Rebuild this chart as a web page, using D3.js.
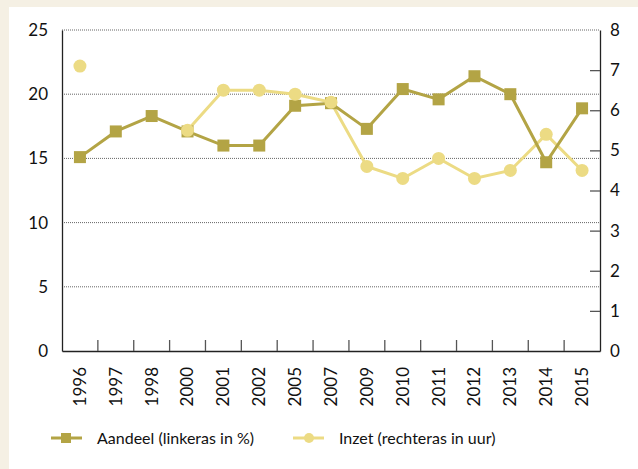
<!DOCTYPE html>
<html>
<head>
<meta charset="utf-8">
<script src="https://cdnjs.cloudflare.com/ajax/libs/d3/7.8.5/d3.min.js"></script>
<style>
  body { margin: 0; background: #f5f0e4; }
  svg { display: block; }
  text { font-family: Lato, "Open Sans", sans-serif; fill: #111; }
</style>
</head>
<body>
<div class="chart"></div>
<script>
// data
var years = ["1996", "1997", "1998", "2000", "2001", "2002", "2005", "2007",
             "2009", "2010", "2011", "2012", "2013", "2014", "2015"];
var aandeel = [15.1, 17.1, 18.3, 17.1, 16.0, 16.0, 19.1, 19.3, 17.3, 20.4, 19.6, 21.4, 20.0, 14.7, 18.9];
var inzet = [7.1, null, null, 5.5, 6.5, 6.5, 6.4, 6.2, 4.6, 4.3, 4.8, 4.3, 4.5, 5.4, 4.5];
var leftTicks = [0, 5, 10, 15, 20, 25];
var rightTicks = [0, 1, 2, 3, 4, 5, 6, 7, 8];
var seriesNames = ["Aandeel (linkeras in %)", "Inzet (rechteras in uur)"];

var svgWidth = 638;
var svgHeight = 469;
var margin = { top: 30, right: 38, bottom: 118, left: 62 };
var width = svgWidth - margin.left - margin.right;
var height = svgHeight - margin.top - margin.bottom;

var darkColor = "#b3a445";
var lightColor = "#ecdb84";

var svg = d3.select(".chart")
  .append("svg")
  .attr("width", svgWidth)
  .attr("height", svgHeight);

// white panel on beige frame
svg.append("rect")
  .attr("x", 9).attr("y", 7)
  .attr("width", svgWidth - 9).attr("height", svgHeight - 7)
  .attr("fill", "#fff");

var chartGroup = svg.append("g")
  .attr("transform", `translate(${margin.left}, ${margin.top})`);

var xScale = d3.scaleBand().domain(years).range([0, width]);
var yLeft = d3.scaleLinear().domain([0, 25]).range([height, 0]);
var yRight = d3.scaleLinear().domain([0, 8]).range([height, 0]);

// gridlines
chartGroup.append("g")
  .selectAll("line")
  .data(leftTicks.filter(d => d > 0))
  .enter().append("line")
  .attr("x1", 0).attr("x2", width)
  .attr("y1", d => yLeft(d)).attr("y2", d => yLeft(d))
  .attr("stroke", "#666")
  .attr("stroke-width", 1)
  .attr("stroke-dasharray", "1,1");

// left axis
var leftAxis = d3.axisLeft(yLeft).tickValues(leftTicks).tickSize(0).tickPadding(14);
var gl = chartGroup.append("g").call(leftAxis);
gl.select(".domain").attr("stroke", "#222").attr("stroke-width", 1.3);
gl.selectAll("text").style("font-size", "17px");

// right axis, ticks pointing inward
var rightAxis = d3.axisRight(yRight).tickValues(rightTicks).tickSize(0).tickPadding(10);
var gr = chartGroup.append("g").attr("transform", `translate(${width}, 0)`).call(rightAxis);
gr.select(".domain").attr("stroke", "#222").attr("stroke-width", 1.3);
gr.selectAll("text").style("font-size", "17px");
gr.selectAll(".tick").filter(d => d > 0 && d < 8)
  .append("line")
  .attr("x1", -10).attr("x2", 0)
  .attr("stroke", "#555").attr("stroke-width", 1.3);

// bottom axis with ticks between categories
var bottomAxis = d3.axisBottom(xScale).tickSize(0).tickPadding(8);
var gb = chartGroup.append("g").attr("transform", `translate(0, ${height})`).call(bottomAxis);
gb.select(".domain").attr("stroke", "#222").attr("stroke-width", 1.3);
gb.selectAll("text")
  .style("font-size", "17px")
  .attr("transform", "rotate(-90)")
  .attr("text-anchor", "end")
  .attr("x", -16)
  .attr("y", 0)
  .attr("dy", "0.35em");
gb.selectAll(".sep")
  .data(years.slice(1))
  .enter().append("line")
  .attr("class", "sep")
  .attr("x1", d => xScale(d)).attr("x2", d => xScale(d))
  .attr("y1", 0).attr("y2", -11)
  .attr("stroke", "#555").attr("stroke-width", 1.3);

var cx = d => xScale(d) + xScale.bandwidth() / 2;

// Inzet line (right axis)
var inzetData = years.map((y, i) => ({ year: y, value: inzet[i] }));
var lineRight = d3.line()
  .defined(d => d.value != null)
  .x(d => cx(d.year))
  .y(d => yRight(d.value));
chartGroup.append("path")
  .datum(inzetData)
  .attr("d", lineRight)
  .attr("fill", "none")
  .attr("stroke", lightColor)
  .attr("stroke-width", 3);

// Aandeel line (left axis)
var aandeelData = years.map((y, i) => ({ year: y, value: aandeel[i] }));
var lineLeft = d3.line()
  .x(d => cx(d.year))
  .y(d => yLeft(d.value));
chartGroup.append("path")
  .datum(aandeelData)
  .attr("d", lineLeft)
  .attr("fill", "none")
  .attr("stroke", darkColor)
  .attr("stroke-width", 3);

var sq = 12;
chartGroup.selectAll("rect.sq")
  .data(aandeelData)
  .enter().append("rect")
  .attr("class", "sq")
  .attr("x", d => cx(d.year) - sq / 2)
  .attr("y", d => yLeft(d.value) - sq / 2)
  .attr("width", sq).attr("height", sq)
  .attr("fill", darkColor);

chartGroup.selectAll("circle.dot")
  .data(inzetData.filter(d => d.value != null))
  .enter().append("circle")
  .attr("class", "dot")
  .attr("cx", d => cx(d.year))
  .attr("cy", d => yRight(d.value))
  .attr("r", 6.5)
  .attr("fill", lightColor);

// legend
var legend = svg.append("g").attr("transform", "translate(0, 438)");
var items = [
  { name: seriesNames[0], x: 51, color: darkColor, shape: "square" },
  { name: seriesNames[1], x: 293, color: lightColor, shape: "circle" }
];
items.forEach(function(it) {
  var g = legend.append("g").attr("transform", `translate(${it.x}, 0)`);
  g.append("line").attr("x1", 0).attr("x2", 31)
    .attr("stroke", it.color).attr("stroke-width", 3);
  if (it.shape === "square") {
    g.append("rect").attr("x", 10).attr("y", -5).attr("width", 10).attr("height", 10).attr("fill", it.color);
  } else {
    g.append("circle").attr("cx", 16).attr("cy", 0).attr("r", 5).attr("fill", it.color);
  }
  g.append("text").attr("x", 46).attr("dy", "0.35em")
    .style("font-size", "16px")
    .text(it.name);
});
</script>
</body>
</html>
